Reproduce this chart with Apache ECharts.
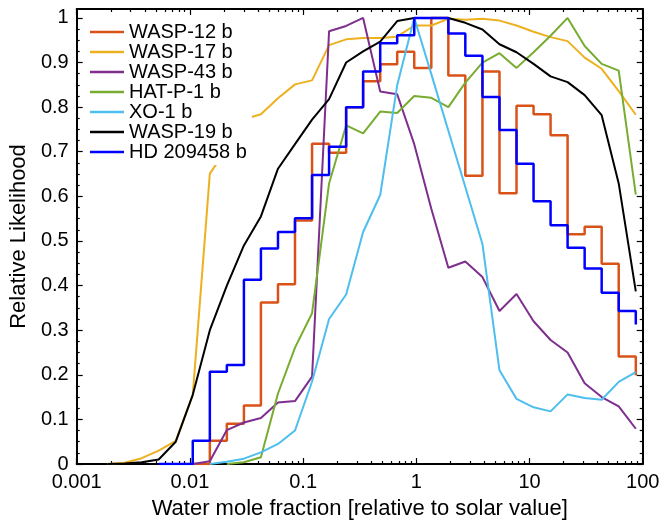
<!DOCTYPE html>
<html>
<head>
<meta charset="utf-8">
<script src="https://cdn.jsdelivr.net/npm/echarts@6/dist/echarts.min.js"></script>
<style>
  html, body { margin: 0; padding: 0; background: #fff; }
  #chart { width: 663px; height: 525px; }
</style>
</head>
<body>
<div id="chart"></div>
<script>
// water mole fraction grid (relative to solar value), shared by every planet
const waterX = [0.001875, 0.00265, 0.00375, 0.0053, 0.0075, 0.0106, 0.015, 0.0212, 0.030, 0.0424,
  0.060, 0.0848, 0.12, 0.1696, 0.24, 0.339, 0.48, 0.678, 0.959, 1.357,
  1.919, 2.71, 3.84, 5.43, 7.68, 10.86, 15.35, 21.7, 30.7, 43.4, 61.4, 86.9]

// relative likelihood per planet (null = not plotted)
const wasp12 = [null, null, null, null, null, 0, 0.052, 0.09, 0.131, 0.362,
  0.403, 0.546, 0.718, 0.698, 0.80, 0.858, 0.896, 0.924, 0.888, 1.0,
  0.871, 0.646, 0.88, 0.607, 0.803, 0.784, 0.737, 0.515, 0.532, 0.449, 0.241, 0.199]
const wasp17 = [0, 0.003, 0.013, 0.03, 0.052, 0.155, 0.651, 0.707, 0.773, 0.784,
  0.82, 0.851, 0.86, 0.939, 0.952, 0.955, 0.955, 0.958, 0.983, 0.983,
  0.998, 0.996, 0.998, 0.994, 0.983, 0.969, 0.957, 0.948, 0.911, 0.886, 0.836, 0.783]
const wasp43 = [null, null, null, null, null, 0, 0.006, 0.076, 0.093, 0.103,
  0.138, 0.141, 0.196, 0.970, 0.982, 1.0, 0.835, 0.829, 0.717, 0.572,
  0.44, 0.454, 0.419, 0.343, 0.381, 0.32, 0.278, 0.25, 0.181, 0.15, 0.129, 0.079]
const hatP1 = [null, null, null, null, null, null, null, 0, 0.004, 0.015,
  0.158, 0.261, 0.338, 0.629, 0.759, 0.741, 0.79, 0.787, 0.825, 0.821,
  0.80, 0.855, 0.90, 0.921, 0.888, 0.923, 0.96, 1.0, 0.937, 0.897, 0.882, 0.604]
const xo1 = [null, null, null, null, null, null, 0, 0.005, 0.012, 0.026,
  0.045, 0.075, 0.185, 0.325, 0.380, 0.52, 0.603, 0.849, 1.0, 0.874,
  0.747, 0.621, 0.493, 0.21, 0.146, 0.127, 0.118, 0.156, 0.148, 0.144, 0.184, 0.206]
const wasp19 = [0, 0.001, 0.004, 0.01, 0.05, 0.155, 0.30, 0.40, 0.49, 0.555,
  0.662, 0.717, 0.772, 0.818, 0.90, 0.925, 0.947, 0.993, 1.0, 1.0,
  1.0, 0.989, 0.974, 0.941, 0.923, 0.897, 0.869, 0.856, 0.827, 0.782, 0.629, 0.387]
const hd209458 = [null, null, null, 0, 0, 0.052, 0.207, 0.222, 0.413, 0.483,
  0.52, 0.551, 0.648, 0.711, 0.80, 0.88, 0.943, 0.961, 1.0, 1.0,
  0.965, 0.915, 0.823, 0.749, 0.673, 0.589, 0.535, 0.485, 0.438, 0.384, 0.343, 0.3125]

const xTicks = [0.001, 0.01, 0.1, 1, 10, 100]
const xMinorSteps = [2, 3, 4, 5, 6, 7, 8, 9]
const yTicks = [0, 0.1, 0.2, 0.3, 0.4, 0.5, 0.6, 0.7, 0.8, 0.9, 1]

const xMinor = []
xTicks.slice(0, -1).forEach(d => xMinorSteps.forEach(m => xMinor.push(m * d)))
const yMinor = []
yTicks.slice(0, -1).forEach(t => [0.025, 0.05, 0.075].forEach(s => yMinor.push(t + s)))

const FONT = "'Liberation Sans', Arial, Helvetica, sans-serif"

const pairs = vals => waterX.map((x, i) => vals[i] == null ? null : [x, vals[i]]).filter(Boolean)

const planets = [
  { name: 'WASP-12 b', data: wasp12, color: '#D95319', step: 'end', width: 2.5 },
  { name: 'WASP-17 b', data: wasp17, color: '#EDB120' },
  { name: 'WASP-43 b', data: wasp43, color: '#7E2F8E' },
  { name: 'HAT-P-1 b', data: hatP1, color: '#77AC30' },
  { name: 'XO-1 b', data: xo1, color: '#4DBEEE' },
  { name: 'WASP-19 b', data: wasp19, color: '#000000' },
  { name: 'HD 209458 b', data: hd209458, color: '#0000FF', step: 'end', width: 2.5 }
]

function xAxisOf(position, ticks, len, major) {
  return {
    type: 'log',
    position: position,
    min: 0.001,
    max: 100,
    logBase: 10,
    axisLine: { show: major, onZero: false, lineStyle: { color: '#000', width: 2 } },
    axisTick: { show: true, inside: true, length: len, customValues: ticks, lineStyle: { color: '#000', width: 1.2 } },
    axisLabel: major && position === 'bottom'
      ? { show: true, customValues: xTicks, color: '#000', fontSize: 20, fontFamily: FONT, margin: 8 }
      : { show: false },
    splitLine: { show: false },
    minorTick: { show: false },
    name: major && position === 'bottom' ? 'Water mole fraction [relative to solar value]' : '',
    nameLocation: 'middle',
    nameGap: 34,
    nameTextStyle: { color: '#000', fontSize: 22, fontFamily: FONT }
  }
}

function yAxisOf(position, ticks, len, major) {
  return {
    type: 'value',
    position: position,
    min: 0,
    max: 1.02,
    axisLine: { show: major, onZero: false, lineStyle: { color: '#000', width: 2 } },
    axisTick: { show: true, inside: true, length: len, customValues: ticks, lineStyle: { color: '#000', width: 1.2 } },
    axisLabel: major && position === 'left'
      ? { show: true, customValues: yTicks, color: '#000', fontSize: 20, fontFamily: FONT, margin: 8 }
      : { show: false },
    splitLine: { show: false },
    name: major && position === 'left' ? 'Relative Likelihood' : '',
    nameLocation: 'middle',
    nameGap: 44,
    nameTextStyle: { color: '#000', fontSize: 22, fontFamily: FONT }
  }
}

const chart = echarts.init(document.getElementById('chart'))
chart.setOption({
  animation: false,
  backgroundColor: '#fff',
  grid: { left: 70.5, right: 20.3, top: 9, bottom: 53.3, containLabel: false },
  legend: {
    left: 88,
    top: 20,
    orient: 'vertical',
    padding: [2, 5, 3, 2],
    backgroundColor: '#fff',
    itemWidth: 34,
    itemHeight: 2.5,
    itemGap: 0,
    icon: 'rect',
    textStyle: { color: '#000', fontSize: 20, fontFamily: FONT, lineHeight: 19.7 },
    data: planets.map(p => p.name)
  },
  xAxis: [
    xAxisOf('bottom', xTicks, 6, true),
    xAxisOf('bottom', xMinor, 3, false),
    xAxisOf('top', xTicks, 6, true),
    xAxisOf('top', xMinor, 3, false)
  ],
  yAxis: [
    yAxisOf('left', yTicks, 6, true),
    yAxisOf('left', yMinor, 3, false),
    yAxisOf('right', yTicks, 6, true),
    yAxisOf('right', yMinor, 3, false)
  ],
  series: planets.map((p, i) => ({
    name: p.name,
    type: 'line',
    xAxisIndex: 0,
    yAxisIndex: 0,
    data: pairs(p.data),
    step: p.step || false,
    showSymbol: false,
    symbol: 'none',
    z: 2 + i,
    color: p.color,
    lineStyle: { color: p.color, width: p.width || 2 }
  }))
})
</script>
</body>
</html>
